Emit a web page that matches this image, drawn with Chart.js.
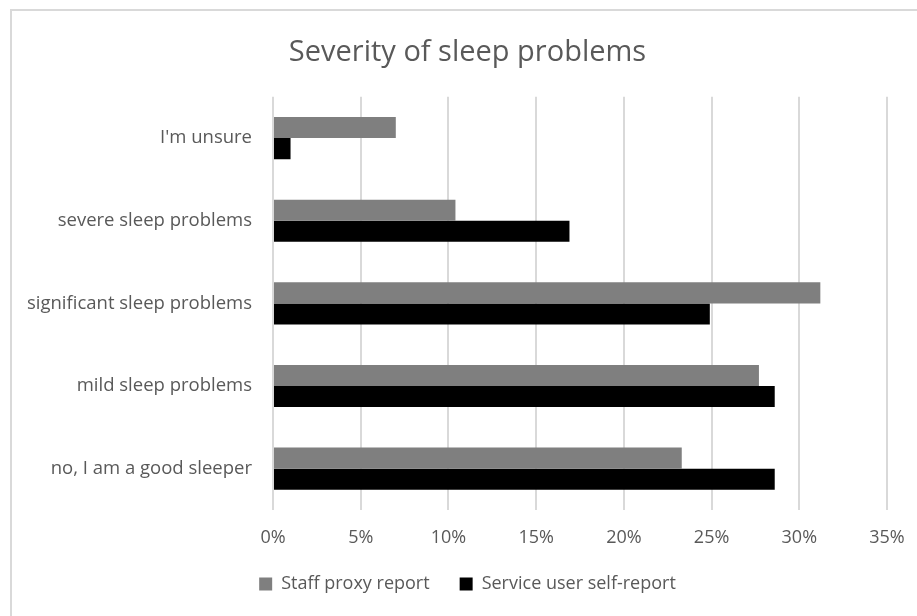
<!DOCTYPE html>
<html>
<head>
<meta charset="utf-8">
<script src="https://cdn.jsdelivr.net/npm/chart.js@4/dist/chart.umd.min.js"></script>
<style>
  html, body { margin: 0; padding: 0; background: #ffffff; overflow: hidden; }
  #frame {
    position: absolute; left: 10px; top: 9px; width: 960px; height: 660px;
    border: 2px solid #d9d9d9; box-sizing: border-box;
  }
  #wrap { position: absolute; left: 0; top: 0; width: 917px; height: 616px; }
</style>
</head>
<body>
<div id="frame"></div>
<div id="wrap"><canvas id="chart" width="917" height="616"></canvas></div>
<script>
// Answers to the sleep-severity question, share of respondents (%)
const categories = [
  "I'm unsure",
  "severe sleep problems",
  "significant sleep problems",
  "mild sleep problems",
  "no, I am a good sleeper"
];
const staffProxy = [7.0, 10.4, 31.2, 27.7, 23.3];
const selfReport = [1.0, 16.9, 24.9, 28.6, 28.6];
const tickValues = [0, 5, 10, 15, 20, 25, 30, 35];

const FONT = "'Open Sans', Lato, sans-serif";
const TEXT = '#595959';

new Chart(document.getElementById('chart'), {
  type: 'bar',
  data: {
    labels: categories,
    datasets: [
      { label: 'Staff proxy report', data: staffProxy, backgroundColor: '#7f7f7f' },
      { label: 'Service user self-report', data: selfReport, backgroundColor: '#000000' }
    ]
  },
  options: {
    indexAxis: 'y',
    responsive: false,
    animation: false,
    devicePixelRatio: 1,
    datasets: { bar: { barPercentage: 1, categoryPercentage: 0.51 } },
    layout: { padding: { left: 18, right: 0, top: 0, bottom: 13 } },
    scales: {
      x: {
        min: 0, max: 35,
        afterBuildTicks: (s) => { s.ticks = tickValues.map(v => ({ value: v })); },
        afterFit: (s) => { s.height = 35; s.paddingRight = 30; },
        grid: { color: '#d9d9d9', lineWidth: 2, drawTicks: false },
        border: { display: false },
        ticks: {
          padding: 17,
          color: TEXT,
          font: { family: FONT, size: 18 },
          callback: (v) => v + '%'
        }
      },
      y: {
        afterFit: (s) => { s.width = 255; },
        grid: { display: false, drawTicks: false },
        border: { display: false },
        ticks: {
          padding: 21,
          color: TEXT,
          font: { family: FONT, size: 18.5 }
        }
      }
    },
    plugins: {
      title: {
        display: true,
        text: 'Severity of sleep problems',
        color: TEXT,
        font: { family: FONT, size: 29, weight: 'normal' },
        padding: { top: 35, bottom: 27 }
      },
      legend: {
        position: 'bottom',
        labels: {
          color: TEXT,
          font: { family: FONT, size: 18 },
          boxWidth: 13, boxHeight: 13,
          padding: 30
        }
      },
      tooltip: { enabled: false }
    }
  }
});
</script>
</body>
</html>
